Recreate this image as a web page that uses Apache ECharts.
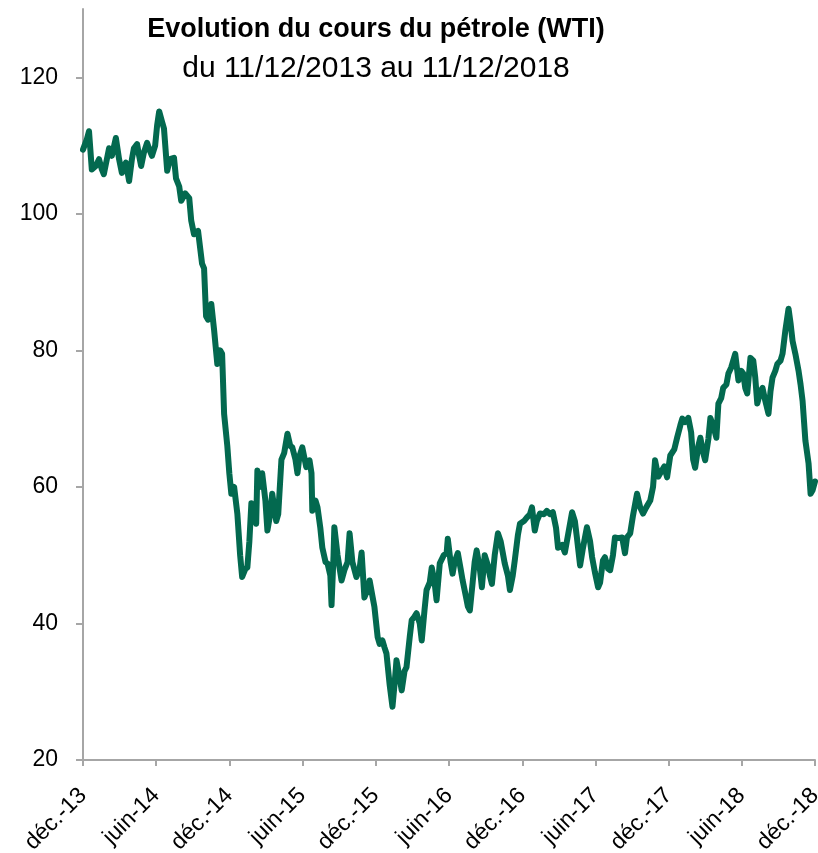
<!DOCTYPE html>
<html>
<head>
<meta charset="utf-8">
<script src="https://cdn.jsdelivr.net/npm/echarts@6/dist/echarts.min.js"></script>
<style>
html,body{margin:0;padding:0;background:#fff;overflow:hidden;}
#chart{width:818px;height:853px;}
</style>
</head>
<body>
<div id="chart"></div>
<script>
const titleText = 'Evolution du cours du pétrole (WTI)';
const subtitleText = 'du 11/12/2013 au 11/12/2018';

const tickDates = ['2013-12-11','2014-06-11','2014-12-11','2015-06-11','2015-12-11','2016-06-11',
  '2016-12-11','2017-06-11','2017-12-11','2018-06-11','2018-12-11'];
const tickLabels = ['déc.-13','juin-14','déc.-14','juin-15','déc.-15','juin-16',
  'déc.-16','juin-17','déc.-17','juin-18','déc.-18'];
const yTicks = [20, 40, 60, 80, 100, 120];

const dates = [
'2013-12-11','2013-12-21','2013-12-26','2014-01-02','2014-01-12','2014-01-20','2014-01-27','2014-02-01',
'2014-02-14','2014-02-21','2014-03-03','2014-03-11','2014-03-18','2014-03-28','2014-04-05','2014-04-12',
'2014-04-17','2014-04-25','2014-04-30','2014-05-05','2014-05-12','2014-05-20','2014-05-25','2014-06-01',
'2014-06-09','2014-06-14','2014-06-19','2014-06-26','2014-07-01','2014-07-09','2014-07-16','2014-07-26',
'2014-07-31','2014-08-08','2014-08-13','2014-08-23','2014-09-02','2014-09-07','2014-09-14','2014-09-24',
'2014-10-04','2014-10-09','2014-10-14','2014-10-19','2014-10-27','2014-11-03','2014-11-11','2014-11-18',
'2014-11-23','2014-11-28','2014-12-06','2014-12-11','2014-12-16','2014-12-23','2014-12-31',
'2015-01-07','2015-01-12','2015-01-20','2015-01-25','2015-01-30','2015-02-04','2015-02-11','2015-02-16',
'2015-02-19','2015-02-26','2015-03-03','2015-03-11','2015-03-16','2015-03-23','2015-03-28','2015-04-02',
'2015-04-07','2015-04-12','2015-04-20','2015-04-27','2015-05-05','2015-05-12','2015-05-17','2015-05-25',
'2015-05-30','2015-06-04','2015-06-11','2015-06-21','2015-06-29','2015-07-04','2015-07-06','2015-07-14',
'2015-07-19','2015-07-26','2015-07-31','2015-08-08','2015-08-13','2015-08-20','2015-08-23','2015-08-28',
'2015-08-30','2015-09-07','2015-09-17','2015-09-24','2015-10-02','2015-10-07','2015-10-14','2015-10-24',
'2015-11-01','2015-11-06','2015-11-13','2015-11-21','2015-11-26','2015-12-03','2015-12-08','2015-12-16',
'2015-12-21','2015-12-28','2016-01-02','2016-01-07','2016-01-15','2016-01-22','2016-01-27','2016-02-01',
'2016-02-09','2016-02-14','2016-02-21','2016-02-26','2016-03-05','2016-03-10','2016-03-17','2016-03-22',
'2016-03-30','2016-04-04','2016-04-11','2016-04-16','2016-04-24','2016-04-29','2016-05-06','2016-05-11',
'2016-05-19','2016-05-29','2016-06-05','2016-06-08','2016-06-15','2016-06-20','2016-06-25','2016-07-03',
'2016-07-10','2016-07-15','2016-07-23','2016-07-28','2016-08-02','2016-08-09','2016-08-14','2016-08-19',
'2016-08-27','2016-09-01','2016-09-08','2016-09-16','2016-09-21','2016-09-26','2016-10-03','2016-10-11',
'2016-10-18','2016-10-28','2016-11-05','2016-11-10','2016-11-17','2016-11-22','2016-11-30','2016-12-05',
'2016-12-15','2016-12-22','2016-12-30','2017-01-04','2017-01-11','2017-01-16','2017-01-24','2017-02-03',
'2017-02-10','2017-02-18','2017-02-25','2017-03-05','2017-03-10','2017-03-20','2017-03-27','2017-04-04',
'2017-04-14','2017-04-21','2017-04-26','2017-05-04','2017-05-11','2017-05-21','2017-05-29','2017-06-03',
'2017-06-10','2017-06-18','2017-06-23','2017-06-30','2017-07-05','2017-07-13','2017-07-18','2017-07-25',
'2017-07-30','2017-08-07','2017-08-17','2017-08-24','2017-08-29','2017-09-06','2017-09-13','2017-09-23',
'2017-10-01','2017-10-08','2017-10-16','2017-10-26','2017-11-02','2017-11-07','2017-11-15','2017-11-20',
'2017-11-30','2017-12-07','2017-12-15','2017-12-25','2018-01-01','2018-01-09','2018-01-14','2018-01-21',
'2018-01-29','2018-02-05','2018-02-10','2018-02-15','2018-02-23','2018-02-28','2018-03-07','2018-03-12',
'2018-03-20','2018-03-25','2018-04-01','2018-04-09','2018-04-14','2018-04-21','2018-04-26','2018-05-04',
'2018-05-09','2018-05-16','2018-05-26','2018-06-03','2018-06-10','2018-06-15','2018-06-20','2018-06-25',
'2018-07-03','2018-07-10','2018-07-15','2018-07-20','2018-07-28','2018-08-02','2018-08-09','2018-08-17',
'2018-08-22','2018-08-27','2018-09-03','2018-09-08','2018-09-16','2018-09-21','2018-09-28','2018-10-06',
'2018-10-11','2018-10-16','2018-10-23','2018-10-31','2018-11-05','2018-11-10','2018-11-17','2018-11-25',
'2018-11-30','2018-12-05','2018-12-11'
];

const prices = [
109.4,111,112.1,106.5,107,108,106.5,105.8,
109.6,108.5,111.1,108,106,107.5,104.8,108,
109.6,110.2,108.5,107,109,110.4,109.5,108.5,
110,113,115,113.5,112.5,106.3,108,108.2,
105.2,104,101.9,103,102.3,99,97,97.5,
92.7,92,85,84.5,86.8,83,78,80,
79.5,70.7,66,62,59,60,56.1,
50,46.8,48,48.2,52,57.6,56,54.6,
62.4,60,62,58,53.6,56,59,57,
55,56,64,65,67.8,66,65.8,64,
62,64.5,65.8,62.9,63.9,62,56.5,58,
57,54,51.1,49,48.8,47,42.7,50,
54.1,50,46.3,47.8,49,53.2,49,46.8,
48,50.4,43.8,45,46.3,44,42.4,38,
37,37.5,36.5,35.6,31,27.8,31,34.6,
32,30.2,33,33.6,38,40.5,41,41.5,
40,37.5,42,44.9,46,48.2,46,43.4,
48.8,50,50.3,52.4,49,47.3,49,50.3,
48,46.3,44,42.5,41.9,46,49,50.7,
48,45.3,50,48.5,47,45.8,50,53.2,
52,48.8,47,44.9,47,49.2,53,54.6,
55,55.5,56,57,53.6,55,56.1,56,
56.5,56,56.3,54,51.1,51.5,50.4,53,
56.3,55,52.6,48.5,51,54.1,52,49.7,
47.5,45.3,46,49.2,49.7,48,47.8,50,
52.6,52.5,52.6,50.3,52.6,53.2,55.8,59,
57,56.1,57,58,60,63.9,61.5,62,
63,61.4,64.6,65.5,67.2,69,70,69.5,
70.1,68,64,62.8,66,67.2,65,63.9,
67,70.1,69,67.2,72.2,73,74.5,75,
76.6,77.5,79.5,75.6,77,76.6,74.5,73.7,
78.9,78.5,76,72.2,74,74.5,72.6,70.7,
74,76,77,78,78.5,79.5,82.9,86.1,
84,81.4,79.5,77,75,72.6,66.8,63.4,
59,59.5,60.8
];

const ts = d => Date.parse(d + 'T00:00:00Z');
const seriesData = dates.map((d, i) => [ts(d), prices[i]]);
const tickTs = tickDates.map(ts);

const chart = echarts.init(document.getElementById('chart'), null, {renderer: 'canvas'});
const FONT = 'Liberation Sans';
chart.setOption({
  animation: false,
  backgroundColor: '#ffffff',
  title: [
    {text: titleText, left: 371, top: 11, textAlign: 'center',
     textStyle: {fontFamily: FONT, fontWeight: 'bold', fontSize: 27, color: '#000'}},
    {text: subtitleText, left: 371, top: 49, textAlign: 'center',
     textStyle: {fontFamily: FONT, fontWeight: 'normal', fontSize: 30, color: '#000'}}
  ],
  grid: {left: 83, right: 3, top: 9, bottom: 93, containLabel: false, outerBoundsMode: 'none'},
  xAxis: {
    type: 'value',
    min: tickTs[0],
    max: tickTs[tickTs.length - 1],
    splitLine: {show: false},
    axisLine: {show: true, lineStyle: {color: '#a6a6a6', width: 2}},
    axisTick: {show: true, length: 6, customValues: tickTs, lineStyle: {color: '#a6a6a6', width: 2}},
    axisLabel: {
      customValues: tickTs,
      rotate: 45,
      margin: 32,
      hideOverlap: false,
      fontFamily: FONT, fontSize: 23, color: '#000',
      formatter: v => { const i = tickTs.indexOf(v); return i >= 0 ? tickLabels[i] : ''; }
    }
  },
  yAxis: {
    type: 'value',
    min: 20, max: 130,
    splitLine: {show: false},
    axisLine: {show: true, lineStyle: {color: '#a6a6a6', width: 2}},
    axisTick: {show: true, length: 7, customValues: yTicks, lineStyle: {color: '#a6a6a6', width: 2}},
    axisLabel: {customValues: yTicks, margin: 25, fontFamily: FONT, fontSize: 23, color: '#000'}
  },
  series: [{
    type: 'line',
    data: seriesData,
    showSymbol: false,
    symbol: 'none',
    lineStyle: {color: '#03694f', width: 6, join: 'round', cap: 'round'},
    clip: false
  }]
});
</script>
</body>
</html>
